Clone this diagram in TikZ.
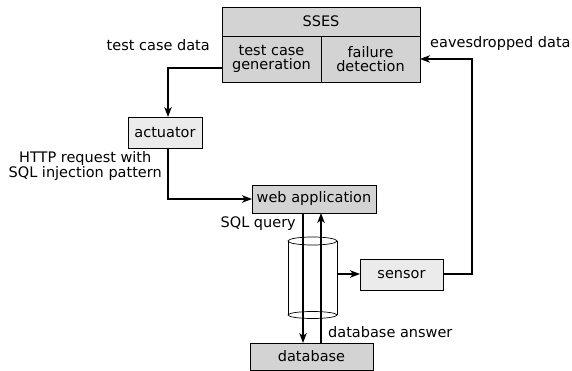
\documentclass[tikz,border=0pt]{standalone}
\usepackage{fontspec}
\setmainfont{DejaVu Sans}
\usetikzlibrary{arrows.meta}
\definecolor{boxgray}{HTML}{D3D3D3}
\definecolor{boxlight}{HTML}{EBEBEB}
\tikzset{
  box/.style={draw=black, line width=0.9pt, inner sep=0pt, outer sep=0pt},
  dark/.style={box, fill=boxgray},
  light/.style={box, fill=boxlight},
  conn/.style={line width=1.3pt, -{Stealth[length=10pt,width=7.5pt,inset=2.8pt]}},
  lbl/.style={inner sep=0pt, align=center},
}
\begin{document}
\begin{tikzpicture}[x=1pt,y=-1pt, font=\fontsize{14.5}{14.5}\selectfont]
\useasboundingbox (0,0) rectangle (572,371);
% SSES
\draw[dark] (222,7) rectangle (420,36);
\node[lbl] (sses) at (321,21.5) {SSES};
\draw[dark] (222,36) rectangle (321,82);
\node[lbl] (tcg) at (271.5,59) {test case\\generation};
\draw[dark] (321,36) rectangle (420,82);
\node[lbl] (fd) at (370.5,59) {failure\\detection};
\coordinate (tcgW) at (222,68);
\coordinate (fdE) at (420,59);
% actuator
\draw[light] (128,117) rectangle (202,148);
\node[lbl] (act) at (165,132.5) {actuator};
\coordinate (actN) at (168,117);
\coordinate (actS) at (168,148);
% web application
\draw[dark] (252,185) rectangle (376,213);
\node[lbl] (web) at (314,199) {web application};
\coordinate (webW) at (252,199);
\coordinate (webS1) at (303,213);
\coordinate (webS2) at (321,213);
% database
\draw[dark] (250,343) rectangle (373,370);
\node[lbl] (db) at (311.5,356.5) {database};
\coordinate (dbN1) at (303,343);
\coordinate (dbN2) at (321,343);
% sensor
\draw[light] (360,259) rectangle (443,290);
\node[lbl] (sensor) at (401.5,274.5) {sensor};
\coordinate (senW) at (360,274);
\coordinate (senE) at (443,274);
% cylinder
\draw[line width=0.7pt] (312.5,241) ellipse [x radius=24.5, y radius=4];
\draw[line width=0.7pt] (312.5,315) ellipse [x radius=24.5, y radius=3.5];
\draw[line width=0.7pt] (288,241) -- (288,315);
\draw[line width=0.7pt] (337,241) -- (337,315);
\coordinate (cylE) at (337,274);
% connectors
\draw[conn] (tcgW) -| (actN);
\draw[conn] (actS) |- (webW);
\draw[conn] (webS1) -- (dbN1);
\draw[conn] (dbN2) -- (webS2);
\draw[conn] (cylE) -- (senW);
\draw[conn] (senE) -- (472,274) |- (fdE);
% labels
\node[lbl, anchor=east] (l1) at (210,45) {test case data};
\node[lbl, anchor=west] (l2) at (430,44) {eavesdropped data};
\node[lbl, anchor=east] (l3) at (162,166) {HTTP request with\\SQL injection pattern};
\node[lbl, anchor=east] (l4) at (296,224) {SQL query};
\node[lbl, anchor=west] (l5) at (328,332) {database answer};
\end{tikzpicture}
\end{document}
